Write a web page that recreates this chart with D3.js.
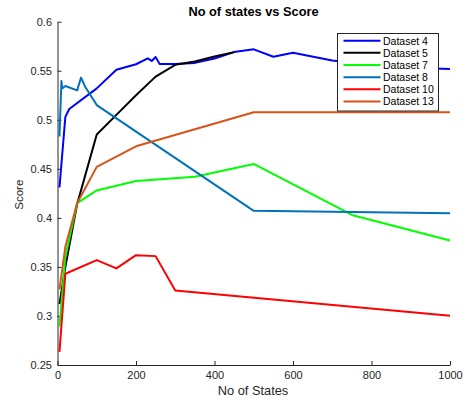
<!DOCTYPE html>
<html><head><meta charset="utf-8">
<script src="https://cdn.jsdelivr.net/npm/d3@7"></script>
<style>body{margin:0;background:#fff}svg{display:block}</style>
</head><body>
<script>
const seriesNames = ["Dataset 4","Dataset 5","Dataset 7","Dataset 8","Dataset 10","Dataset 13"];
const ds4X = [5,20,30,100,150,200,230,240,250,260,300,350,400,450,500,550,600,700,800,900,1000];
const ds4Y = [0.431,0.503,0.511,0.532,0.551,0.5566,0.5626,0.560,0.564,0.557,0.557,0.558,0.5625,0.569,0.5718,0.5643,0.5684,0.5605,0.556,0.553,0.5517];
const ds5X = [5,20,50,100,150,200,250,300,350,400,450];
const ds5Y = [0.312,0.35,0.414,0.485,0.505,0.525,0.544,0.556,0.5595,0.5645,0.569];
const ds7X = [5,20,50,100,200,350,500,750,1000];
const ds7Y = [0.289,0.36,0.415,0.428,0.4375,0.442,0.455,0.403,0.377];
const ds8X = [5,10,12,20,50,60,70,100,500,1000];
const ds8Y = [0.483,0.5395,0.532,0.5344,0.530,0.543,0.534,0.515,0.4072,0.4046];
const ds10X = [5,20,100,150,200,250,300,1000];
const ds10Y = [0.2634,0.343,0.357,0.3485,0.362,0.361,0.326,0.3002];
const ds13X = [5,20,50,100,200,500,1000];
const ds13Y = [0.327,0.3705,0.415,0.452,0.473,0.5076,0.5076];
const xTicks = [0,200,400,600,800,1000];
const yTicks = [0.25,0.3,0.35,0.4,0.45,0.5,0.55,0.6];
const colors = ["#0000FF","#000000","#00FF00","#0072BD","#FF0000","#D95319"];

const allX = [ds4X,ds5X,ds7X,ds8X,ds10X,ds13X];
const allY = [ds4Y,ds5Y,ds7Y,ds8Y,ds10Y,ds13Y];

const W=466,H=403;
const svg = d3.select("body").append("svg").attr("width",W).attr("height",H);
const x = d3.scaleLinear().domain([0,1000]).range([57.5,450]);
const y = d3.scaleLinear().domain([0.25,0.6]).range([365,21.7]);
const font = "'Liberation Sans', Arial, sans-serif";
const axisColor = "#262626";

// axes
const gx = svg.append("g").attr("transform","translate(0,365)")
  .call(d3.axisBottom(x).tickValues(xTicks).tickSizeInner(-4).tickSizeOuter(0).tickPadding(6.5).tickFormat(d3.format("d")));
const gy = svg.append("g").attr("transform","translate(57.5,0)")
  .call(d3.axisLeft(y).tickValues(yTicks).tickSizeInner(-4).tickSizeOuter(0).tickPadding(5.5).tickFormat(d=>String(+d.toFixed(2))));
[gx,gy].forEach(g=>{
  g.select(".domain").attr("stroke",axisColor).attr("stroke-width",1);
  g.selectAll(".tick line").attr("stroke",axisColor);
  g.selectAll(".tick text").attr("fill",axisColor).attr("font-family",font).attr("font-size","11px");
});

// lines
const line = d3.line().x(d=>x(d[0])).y(d=>y(d[1]));
allX.forEach((xs,i)=>{
  const pts = xs.map((v,j)=>[v,allY[i][j]]);
  svg.append("path").datum(pts).attr("d",line).attr("fill","none")
    .attr("stroke",colors[i]).attr("stroke-width",2).attr("stroke-linejoin","round");
});

// title & labels
svg.append("text").attr("x",253.5).attr("y",15.5).attr("text-anchor","middle")
  .attr("font-family",font).attr("font-size","12.8px").attr("font-weight","bold").attr("fill","#000")
  .text("No of states vs Score");
svg.append("text").attr("x",253).attr("y",395).attr("text-anchor","middle")
  .attr("font-family",font).attr("font-size","12.8px").attr("fill",axisColor).text("No of States");
svg.append("text").attr("transform","translate(22.5,194.7) rotate(-90)").attr("text-anchor","middle")
  .attr("font-family",font).attr("font-size","11.5px").attr("fill",axisColor).text("Score");

// legend
const lg = svg.append("g");
lg.append("rect").attr("x",337.5).attr("y",33.5).attr("width",101).attr("height",77.5)
  .attr("fill","#fff").attr("stroke","#262626").attr("stroke-width",1);
seriesNames.forEach((n,i)=>{
  const yy = 40.7 + i*12.15;
  lg.append("line").attr("x1",343.5).attr("x2",380.5).attr("y1",yy).attr("y2",yy)
    .attr("stroke",colors[i]).attr("stroke-width",2);
  lg.append("text").attr("x",383).attr("y",yy+4).attr("font-family",font).attr("font-size","10.5px")
    .attr("fill","#000").text(n);
});
</script>
</body></html>
